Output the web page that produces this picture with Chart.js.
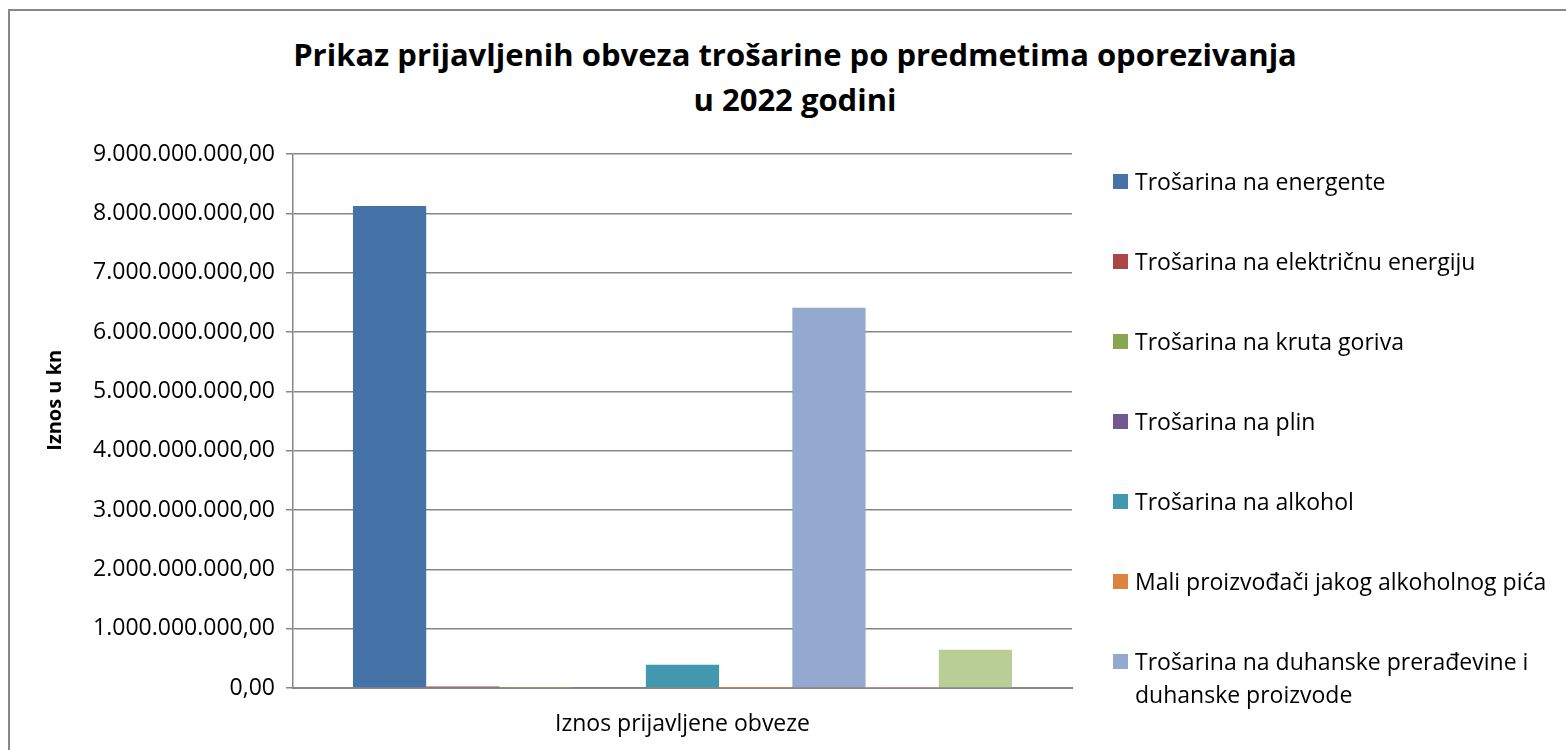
<!DOCTYPE html>
<html>
<head>
<meta charset="utf-8">
<script src="https://cdn.jsdelivr.net/npm/chart.js@4.4.1/dist/chart.umd.min.js"></script>
<style>
  body { margin: 0; background: #fff; }
  #wrap { position: relative; width: 1566px; height: 750px; overflow: hidden; font-family: "Open Sans", sans-serif; }
  #frame { position: absolute; left: 8px; top: 9px; width: 1600px; height: 800px;
           border-left: 2px solid #878787; border-top: 2px solid #878787; }
  #title { position: absolute; left: 0; top: 32px; width: 1590px; text-align: center;
           font-weight: bold; font-size: 31px; line-height: 45px; color: #000; }
  #chart { position: absolute; left: 0; top: 0; }
  #legend { position: absolute; left: 1113px; top: 0; }
  .item { position: absolute; left: 0; width: 450px; font-size: 23px; line-height: 33px; color: #000; white-space: nowrap; }
  .item span.box { position: absolute; left: 0; top: 9px; width: 15px; height: 15px; }
  .item span.txt { display: block; margin-left: 22px; }
</style>
</head>
<body>
<div id="wrap">
  <div id="frame"></div>
  <div id="title">Prikaz prijavljenih obveza trošarine po predmetima oporezivanja<br>u 2022 godini</div>
  <canvas id="chart" width="1566" height="750"></canvas>
  <div id="legend"></div>
</div>
<script>
/* ================= DATA ================= */
const categories = ["Iznos prijavljene obveze"];

const seriesNames = [
  "Trošarina na energente",
  "Trošarina na električnu energiju",
  "Trošarina na kruta goriva",
  "Trošarina na plin",
  "Trošarina na alkohol",
  "Mali proizvođači jakog alkoholnog pića",
  "Trošarina na duhanske prerađevine i duhanske proizvode",
  "Trošarina na međuproizvode",
  "Trošarina na pivo"
];

const seriesValues = [
  8125000000,
  25000000,
  500000,
  8000000,
  390000000,
  1000000,
  6410000000,
  2000000,
  645000000
];

const seriesColors = [
  "#4572A7", "#AA4643", "#89A54E", "#71588F", "#4198AF",
  "#DB843D", "#93A9CF", "#D19392", "#B9CD96"
];

const yTicks = [0, 1e9, 2e9, 3e9, 4e9, 5e9, 6e9, 7e9, 8e9, 9e9];

// only the first 7 legend entries fit in the picture
const legendShown = 7;

/* ================= HELPERS ================= */
function fmtKn(v) {
  const parts = Number(v).toFixed(2).split(".");
  parts[0] = parts[0].replace(/\B(?=(\d{3})+(?!\d))/g, ".");
  return parts.join(",");
}

const FONT = "'Open Sans', sans-serif";
const GRID = "#878787";

/* ================= CHART ================= */
const chart = new Chart(document.getElementById("chart"), {
  type: "bar",
  data: {
    labels: categories,
    datasets: seriesNames.map((name, i) => ({
      label: name,
      data: [seriesValues[i]],
      backgroundColor: seriesColors[i],
      borderWidth: 0,
      categoryPercentage: 0.846,
      barPercentage: 1
    }))
  },
  options: {
    responsive: false,
    animation: false,
    layout: { padding: { left: 0, right: 494, top: 154, bottom: 0 } },
    plugins: {
      legend: { display: false },
      title: { display: false },
      tooltip: { enabled: false }
    },
    scales: {
      y: {
        min: 0,
        max: 9e9,
        afterFit: s => { s.width = 293; },
        afterBuildTicks: s => { s.ticks = yTicks.map(v => ({ value: v })); },
        ticks: {
          callback: v => fmtKn(v),
          color: "#000",
          padding: 11,
          font: { family: FONT, size: 23 }
        },
        grid: { color: GRID, lineWidth: 1.5, tickLength: 7 },
        border: { color: GRID, width: 1.5 },
        title: {
          display: true,
          // leading spaces nudge the title a bit above the axis centre, as in Excel
          text: "\u00A0\u00A0\u00A0\u00A0\u00A0\u00A0\u00A0\u00A0Iznos u kn",
          color: "#000",
          padding: { top: 43, bottom: 0 },
          font: { family: FONT, size: 20, weight: "bold" }
        }
      },
      x: {
        afterFit: s => { s.height = 62; },
        ticks: { color: "#000", padding: 15, font: { family: FONT, size: 23 } },
        grid: { display: false },
        border: { color: GRID, width: 2 }
      }
    }
  }
});

/* ================= LEGEND ================= */
const legendEl = document.getElementById("legend");
const legendTops = [165, 245, 325, 405, 485, 565, 645];
chart.data.datasets.slice(0, legendShown).forEach((ds, i) => {
  const item = document.createElement("div");
  item.className = "item";
  item.style.top = legendTops[i] + "px";
  let txt = ds.label;
  if (i === 6) txt = "Trošarina na duhanske prerađevine i<br>duhanske proizvode";
  item.innerHTML = `<span class="box" style="background:${ds.backgroundColor}"></span><span class="txt">${txt}</span>`;
  legendEl.appendChild(item);
});
</script>
</body>
</html>
